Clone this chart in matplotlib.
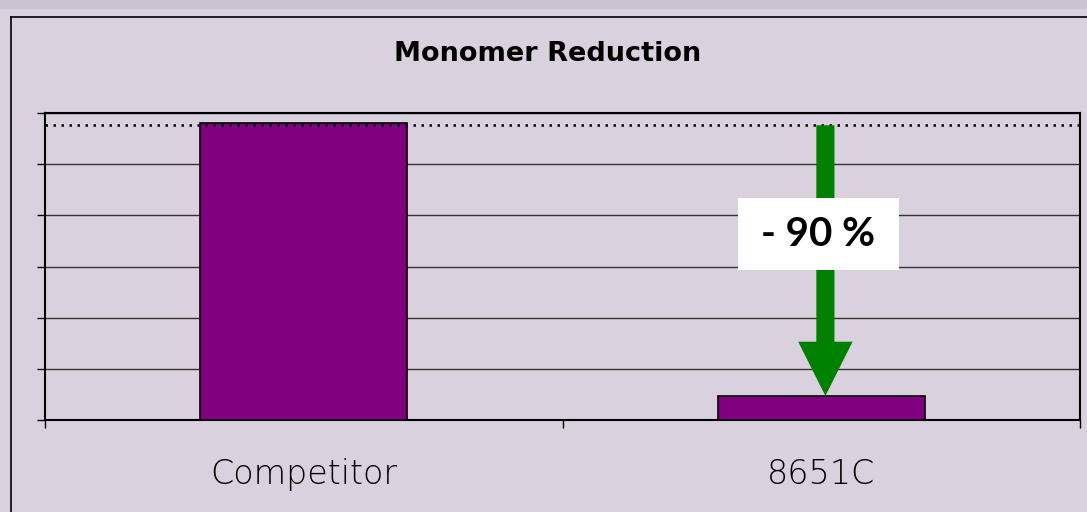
import matplotlib
matplotlib.use("Agg")
import matplotlib.pyplot as plt
from matplotlib.patches import FancyArrow, Rectangle
from matplotlib.lines import Line2D
from matplotlib import transforms

# ---------------------------------------------------------
#   DATA
# ---------------------------------------------------------
categories = ["Competitor", "8651C"]
values = [5.8, 0.47]
y_max = 6
title = "Monomer Reduction"
reduction_label = "- 90 %"

BG = "#d9d1dd"
BAND = "#cbc3d1"
PURPLE = "#800080"
GREEN = "#008000"

W, H = 1087, 512
fig = plt.figure(figsize=(W / 100, H / 100), dpi=100, facecolor=BG)

# top band and chart frame
fig.patches.append(Rectangle((0, 1 - 9 / H), 1, 9 / H, transform=fig.transFigure,
                             facecolor=BAND, edgecolor="none", zorder=0))
fig.lines.append(Line2D([11 / W, 11 / W], [0, 1 - 17 / H], transform=fig.transFigure,
                        color="black", lw=1.2))
fig.lines.append(Line2D([11 / W, 1], [1 - 17 / H, 1 - 17 / H], transform=fig.transFigure,
                        color="black", lw=1.2))

ax = fig.add_axes([45 / W, (H - 420) / H, 1035 / W, 307 / H])
ax.set_facecolor(BG)

x = list(range(len(categories)))
ax.bar(x, values, width=0.4, color=PURPLE, edgecolor="black", linewidth=1.2, zorder=3)

ax.set_xlim(-0.5, len(categories) - 0.5)
ax.set_ylim(0, y_max)
ax.set_yticks(range(y_max + 1))
ax.set_yticklabels([])
ax.set_xticks([i - 0.5 for i in range(len(categories) + 1)])
ax.set_xticklabels([])
ax.tick_params(axis="both", direction="out", length=6, width=1, color="black")
ax.grid(axis="y", color="#333333", lw=1, zorder=1)
for s in ax.spines.values():
    s.set_color("black")
    s.set_linewidth(1.5)

# reference line at competitor level
ax.axhline(values[0] - 0.04, color="black", ls=(0, (1, 2.2)), lw=1.8, zorder=4)

# category labels
trans = transforms.blended_transform_factory(ax.transData, ax.transAxes)
for xi, cat in zip(x, categories):
    ax.text(xi, -0.178, cat, transform=trans, ha="center", va="center",
            fontsize=24, family="DejaVu Sans", fontweight=200, color="black")

# title
fig.text(548 / W, 1 - 54 / H, title, ha="center", va="center",
         fontsize=19.5, family="DejaVu Sans", fontweight="bold", color="black")

# arrow from competitor level down to 8651C
head_len = 1.06
arr = FancyArrow(1.008, values[0] - 0.04, 0, -(values[0] - 0.04 - values[1]),
                 width=0.035, head_width=0.105, head_length=head_len,
                 length_includes_head=True, color=GREEN, lw=0, zorder=5)
ax.add_patch(arr)

# label box
bx, by = 0.994, 3.63
ax.add_patch(Rectangle((bx - 0.1555, by - 0.70), 0.311, 1.40, facecolor="white",
                       edgecolor="none", zorder=6))
ax.text(bx, by, reduction_label, ha="center", va="center", fontsize=29,
        family="Lato", fontweight="bold", color="black", zorder=7)

fig.savefig("out.png", dpi=100, facecolor=BG)
